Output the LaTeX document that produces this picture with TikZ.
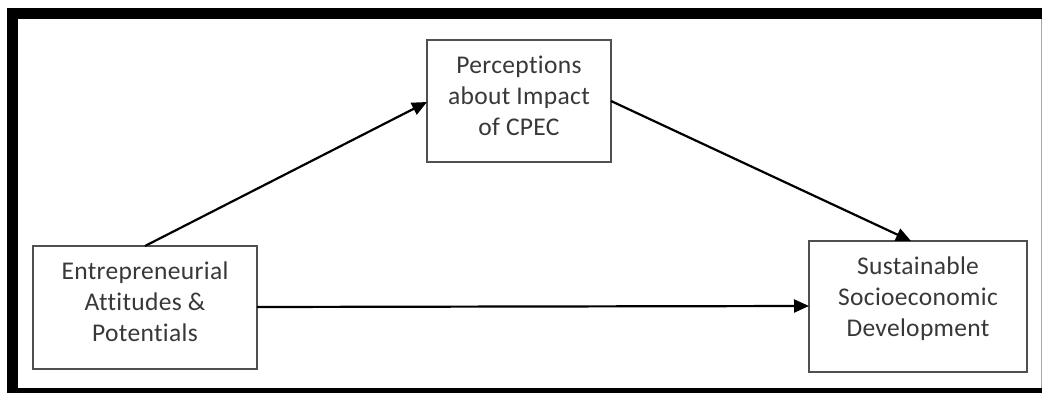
\documentclass[tikz,border=0pt]{standalone}
\usepackage{fontspec}
\setmainfont{Carlito}[Ligatures={NoCommon}, LetterSpace=1.3]
\usetikzlibrary{arrows.meta}
\definecolor{boxgray}{HTML}{505050}
\definecolor{txtgray}{HTML}{383838}
\tikzset{
  box/.style={draw=boxgray, line width=1.8pt, rectangle, inner sep=0pt},
  lbl/.style={align=center, inner sep=0pt, text=txtgray,
    font=\fontsize{25.5}{31}\selectfont},
  conn/.style={draw=black, line width=2.2pt,
    -{Triangle[length=15pt,width=13pt]}},
  frame/.style={fill=black, draw=none}
}
\newcommand{\st}{\strut}
\begin{document}
\begin{tikzpicture}[x=1pt,y=-1pt]
\useasboundingbox (0,0) rectangle (1042,393);
\fill[white] (0,0) rectangle (1042,393);
% frame
\fill[frame] (7,8) rectangle (1042,19.5);
\fill[frame] (7,8) rectangle (18,393);
\fill[frame] (7,388) rectangle (1042,393);
\draw[gray!70, line width=1pt] (1041,19.5) -- (1041,388);
% boxes
\node[box, minimum width=224pt, minimum height=123pt] (ent) at (145,307.5) {};
\node[box, minimum width=184pt, minimum height=122pt] (per) at (519,101) {};
\node[box, minimum width=218pt, minimum height=131pt] (sus) at (918,306.5) {};
% labels
\node[lbl] (entl) at (145,304.2) {\st Entrepreneurial\\Attitudes \&\\Potentials\st};
\node[lbl] (perl) at (519,98.2) {\st Perceptions\\about Impact\\of CPEC\st};
\node[lbl] (susl) at (918,298.8) {\st Sustainable\\Socioeconomic\\Development\st};
% connectors
\coordinate (e1) at (145,246);
\coordinate (p1) at (427,102);
\coordinate (p2) at (611,101);
\coordinate (s1) at (911,241);
\coordinate (e2) at (257,307);
\coordinate (s2) at (809,306);
\draw[conn] (e1) -- (p1);
\draw[conn] (p2) -- (s1);
\draw[conn] (e2) -- (s2);
\end{tikzpicture}
\end{document}
